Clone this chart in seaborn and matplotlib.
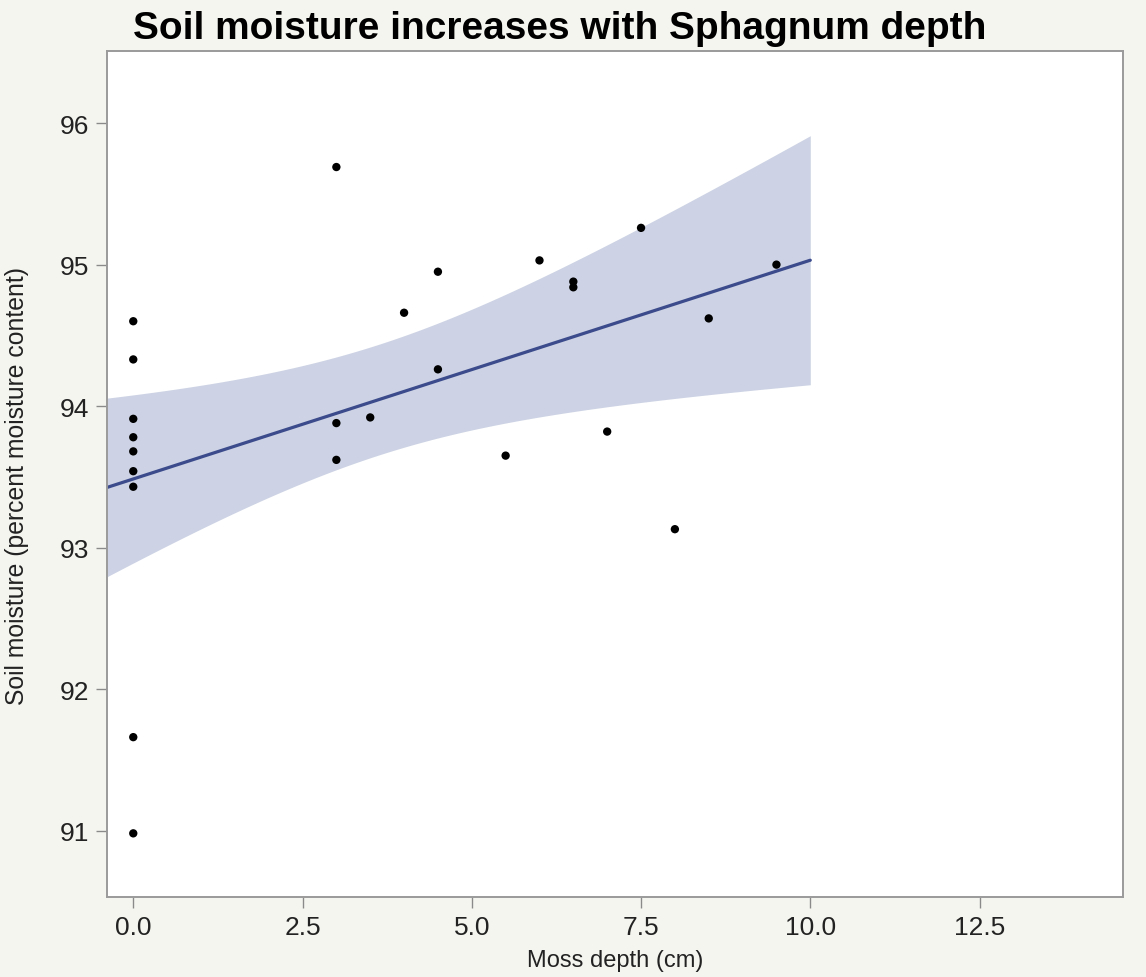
import numpy as np
import pandas as pd
import matplotlib
matplotlib.use("Agg")
import matplotlib.pyplot as plt
import seaborn as sns

# Field measurements: Sphagnum moss depth vs. soil moisture
moss_depth_cm = [0, 0, 0, 0, 0, 0, 0, 0, 0,
                 3, 3, 3, 3.5, 4, 4.5, 4.5, 5.5, 6, 6.5, 6.5,
                 7, 7.5, 8, 8.5, 9.5]
soil_moisture_pct = [94.60, 94.33, 93.91, 93.78, 93.68, 93.54, 93.43, 91.66, 90.98,
                     95.69, 93.88, 93.62, 93.92, 94.66, 94.95, 94.26, 93.65, 95.03, 94.88, 94.84,
                     93.82, 95.26, 93.13, 94.62, 95.00]

x_ticks = [0.0, 2.5, 5.0, 7.5, 10.0, 12.5]
x_tick_labels = ["0.0", "2.5", "5.0", "7.5", "10.0", "12.5"]
y_ticks = [91, 92, 93, 94, 95, 96]
y_tick_labels = ["91", "92", "93", "94", "95", "96"]

title = "Soil moisture increases with Sphagnum depth"
x_label = "Moss depth (cm)"
y_label = "Soil moisture (percent moisture content)"

df = pd.DataFrame({"depth": moss_depth_cm, "moisture": soil_moisture_pct})

sns.set_style("white")
plt.rcParams["font.family"] = ["Liberation Sans", "DejaVu Sans"]

fig_bg = "#f5f5f0"
band_color = "#cdd3e4"
line_color = "#3b4b8c"
spine_color = "#9a9a9a"

fig = plt.figure(figsize=(11.46, 9.78), dpi=100, facecolor=fig_bg)
ax = fig.add_axes([0.0936, 0.0818, 0.8864, 0.865])
ax.set_facecolor("white")

xlim = (-0.384, 14.62)
ylim = (90.53, 96.51)

# Ordinary least squares fit with a 95% confidence band for the mean
x = df["depth"].to_numpy(float)
y = df["moisture"].to_numpy(float)
n = len(x)
slope, intercept = np.polyfit(x, y, 1)
resid = y - (intercept + slope * x)
s = np.sqrt(np.sum(resid ** 2) / (n - 2))
sxx = np.sum((x - x.mean()) ** 2)
t_crit = 2.069  # two-sided 95%, df = 23

grid = np.linspace(xlim[0], 10.0, 200)
fit = intercept + slope * grid
se = s * np.sqrt(1.0 / n + (grid - x.mean()) ** 2 / sxx)
fit_df = pd.DataFrame({"depth": grid, "moisture": fit})

ax.fill_between(grid, fit - t_crit * se, fit + t_crit * se,
                color=band_color, linewidth=0, zorder=1)
sns.lineplot(data=fit_df, x="depth", y="moisture", ax=ax,
             color=line_color, linewidth=2.3, zorder=2)
sns.scatterplot(data=df, x="depth", y="moisture", ax=ax,
                color="black", s=36, edgecolor="none", zorder=3)

ax.set_xlim(*xlim)
ax.set_ylim(*ylim)
ax.set_xticks(x_ticks)
ax.set_xticklabels(x_tick_labels)
ax.set_yticks(y_ticks)
ax.set_yticklabels(y_tick_labels)

ax.tick_params(axis="both", which="major", direction="out", length=8, width=1,
               color="#8a8a8a", labelsize=19, labelcolor="#222222", pad=5)
ax.tick_params(left=True, bottom=True)

for side in ["left", "right", "top", "bottom"]:
    ax.spines[side].set_visible(True)
    ax.spines[side].set_color(spine_color)
    ax.spines[side].set_linewidth(1.4)

ax.set_xlabel(x_label, fontsize=17, color="#222222")
ax.set_ylabel(y_label, fontsize=17.8, color="#222222")
ax.xaxis.set_label_coords(0.5, -0.061)
ax.yaxis.set_label_coords(-0.077, 0.487)

fig.text(0.4887, 0.970, title, ha="center", va="center",
         fontsize=28, fontweight="bold", color="black")

fig.savefig("out.png", dpi=100, facecolor=fig_bg)
